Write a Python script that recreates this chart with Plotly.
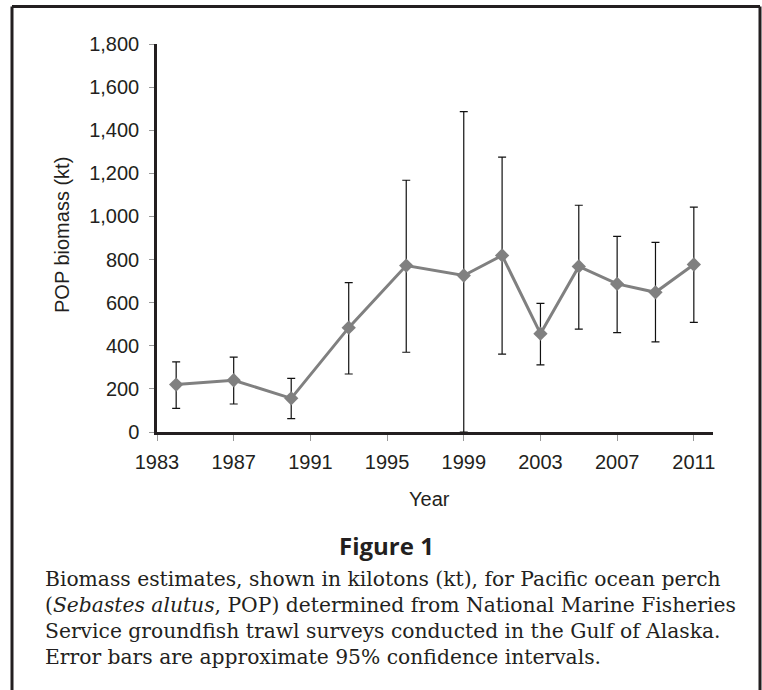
import plotly.graph_objects as go

# Gulf of Alaska trawl survey estimates of Pacific ocean perch biomass (kt)
years = [1984, 1987, 1990, 1993, 1996, 1999, 2001, 2003, 2005, 2007, 2009, 2011]
biomass = [220, 240, 156, 484, 772, 726, 819, 456, 768, 687, 648, 777]
ci_upper = [325, 347, 249, 693, 1168, 1486, 1275, 597, 1052, 908, 880, 1043]
ci_lower = [110, 130, 62, 269, 370, 0, 361, 311, 477, 461, 418, 509]

x_ticks = [1983, 1987, 1991, 1995, 1999, 2003, 2007, 2011]
y_ticks = [0, 200, 400, 600, 800, 1000, 1200, 1400, 1600, 1800]

caption_lines = [
    "Biomass estimates, shown in kilotons (kt), for Pacific ocean perch",
    "(<i>Sebastes alutus</i>, POP) determined from National Marine Fisheries",
    "Service groundfish trawl surveys conducted in the Gulf of Alaska.",
    "Error bars are approximate 95% confidence intervals.",
]

W, H = 762, 690
L, R, T, B = 157, 713, 44, 432  # plot area in page pixels


def px_x(px):
    return (px - L) / (R - L)


def px_y(py):
    return (B - py) / (B - T)


GRAY = "#808080"
INK = "#231f20"

fig = go.Figure()
fig.add_trace(go.Scatter(
    x=years,
    y=biomass,
    mode="lines+markers",
    line=dict(color=GRAY, width=3),
    marker=dict(symbol="diamond", size=11, color=GRAY),
    error_y=dict(
        type="data",
        symmetric=False,
        array=[u - b for u, b in zip(ci_upper, biomass)],
        arrayminus=[b - l for b, l in zip(biomass, ci_lower)],
        color="#111111",
        thickness=1.2,
        width=4,
    ),
    showlegend=False,
    cliponaxis=False,
))

axis_font = dict(family="Liberation Sans", size=20, color=INK)

fig.update_layout(
    width=W,
    height=H,
    margin=dict(l=L, r=W - R, t=T, b=H - B),
    paper_bgcolor="white",
    plot_bgcolor="white",
    font=axis_font,
    xaxis=dict(
        range=[1983, 2012],
        tickvals=x_ticks,
        ticktext=[str(v) for v in x_ticks],
        showgrid=False,
        zeroline=False,
        showline=True,
        linecolor=INK,
        linewidth=2.5,
        ticks="outside",
        ticklen=6,
        tickwidth=1,
        tickcolor="#999999",
        tickfont=axis_font,
        ticklabelstandoff=4,
    ),
    yaxis=dict(
        range=[0, 1800],
        tickvals=y_ticks,
        tickformat=",",
        showgrid=False,
        zeroline=False,
        showline=True,
        linecolor=INK,
        linewidth=2.5,
        ticks="outside",
        ticklen=5,
        tickwidth=1,
        tickcolor="#999999",
        tickfont=axis_font,
        ticklabelstandoff=6,
    ),
)

annotations = [
    dict(text="Year", x=px_x(429), y=px_y(499), font=axis_font,
         xanchor="center", yanchor="middle"),
    dict(text="POP biomass (kt)", x=px_x(62), y=px_y(235), textangle=-90,
         font=axis_font, xanchor="center", yanchor="middle"),
    dict(text="<b>Figure 1</b>", x=px_x(386), y=px_y(545),
         font=dict(family="Open Sans", size=24, color=INK),
         xanchor="center", yanchor="middle"),
]
for i, line in enumerate(caption_lines):
    annotations.append(dict(
        text=line, x=px_x(43), y=px_y(579 + i * 26),
        font=dict(family="DejaVu Serif", size=20.3, color=INK),
        xanchor="left", yanchor="middle",
    ))
for a in annotations:
    a.update(xref="paper", yref="paper", showarrow=False)
fig.update_layout(annotations=annotations)

# Frame around the figure (open at the bottom edge)
frame = dict(color=INK, width=3)
fig.update_layout(shapes=[
    dict(type="line", xref="paper", yref="paper",
         x0=px_x(12), x1=px_x(12), y0=px_y(6.5), y1=px_y(700), line=frame),
    dict(type="line", xref="paper", yref="paper",
         x0=px_x(12), x1=px_x(760), y0=px_y(6.5), y1=px_y(6.5), line=frame),
    dict(type="line", xref="paper", yref="paper",
         x0=px_x(760), x1=px_x(760), y0=px_y(6.5), y1=px_y(700), line=frame),
])

fig.write_html("out.html")
